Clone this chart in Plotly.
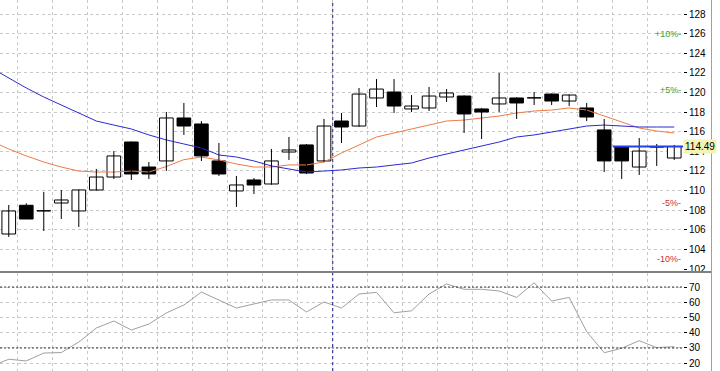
import plotly.graph_objects as go

# ---------------- data ----------------
bar_index = list(range(39))  # candle positions
open_ = [105.57, 108.50, 107.92, 108.73, 107.92, 110.06, 111.38, 114.95, 112.40, 113.02,
         117.40, 116.79, 113.02, 109.96, 111.08, 110.67, 113.93, 114.65, 113.02, 117.09,
         116.58, 119.44, 120.05, 118.32, 118.42, 119.54, 119.64, 118.32, 118.83, 119.44,
         119.44, 119.84, 119.13, 118.42, 116.18, 114.44, 112.40, 114.44, 113.32]
high = [108.53, 108.70, 109.86, 110.06, 110.10, 112.20, 114.03, 115.00, 112.91, 118.01,
        118.93, 117.09, 114.85, 111.49, 111.28, 114.24, 115.46, 114.75, 117.30, 117.91,
        120.46, 121.37, 121.37, 119.74, 120.56, 120.35, 119.70, 118.42, 121.99, 119.50,
        120.05, 119.90, 119.80, 118.93, 117.30, 114.50, 115.36, 114.75, 114.65]
low = [105.27, 107.10, 105.88, 107.10, 106.29, 110.00, 111.18, 111.08, 111.18, 112.00,
       115.67, 113.02, 111.49, 108.33, 109.65, 110.60, 113.12, 111.69, 112.90, 114.85,
       116.50, 118.52, 117.91, 118.01, 118.11, 119.03, 115.87, 115.26, 118.01, 117.30,
       118.72, 118.72, 118.62, 117.09, 111.89, 111.18, 111.59, 112.51, 113.12]
close = [107.92, 107.10, 107.92, 109.04, 110.06, 111.38, 113.53, 111.69, 111.69, 117.40,
         116.58, 113.53, 111.69, 110.57, 110.57, 113.02, 114.14, 111.79, 116.58, 116.48,
         119.84, 120.35, 118.62, 118.62, 119.64, 119.95, 117.81, 118.01, 119.44, 118.93,
         119.44, 119.13, 119.74, 117.50, 113.02, 113.02, 114.03, 114.44, 114.49]

# indicator values, one bar earlier than the first visible candle
ind_index = list(range(-1, 39))
ma_slow = [122.50, 121.48, 120.46, 119.54, 118.72, 117.90, 117.09, 116.68, 116.28, 115.67,
           115.16, 114.75, 114.34, 113.63, 113.42, 113.02, 112.51, 112.20, 111.89, 111.99,
           112.10, 112.30, 112.40, 112.61, 112.81, 113.32, 113.73, 114.14, 114.54, 114.95,
           115.46, 115.67, 115.97, 116.28, 116.58, 116.68, 116.58, 116.48, 116.48, 116.48]
ma_fast = [115.05, 114.24, 113.53, 112.91, 112.40, 111.99, 111.89, 111.89, 111.99, 111.89,
           112.45, 113.15, 113.42, 113.12, 112.71, 112.40, 112.40, 112.61, 112.61, 112.91,
           113.83, 114.65, 115.46, 115.87, 116.28, 116.68, 117.09, 117.19, 117.40, 117.60,
           117.91, 118.11, 118.21, 118.42, 118.21, 117.60, 116.99, 116.38, 116.07, 115.87]
rsi = [18.0, 22.6, 21.5, 26.7, 27.0, 33.9, 43.1, 47.7, 41.8, 45.7,
       53.0, 58.2, 66.7, 61.3, 56.2, 58.9, 61.5, 61.5, 53.6, 60.2,
       56.2, 65.4, 66.5, 53.1, 54.4, 65.4, 72.0, 68.5, 68.5, 67.4,
       63.2, 72.8, 60.8, 63.2, 40.7, 26.9, 29.8, 34.8, 30.2, 30.9]

price_ticks = list(range(102, 130, 2))
rsi_ticks = [20, 30, 40, 50, 60, 70]
rsi_levels = [70, 30]
pct_levels = [10, 5, -5, -10]
separator_after = 18          # period separator after this candle
price_line_from = 35          # horizontal line at last price starts here

# ---------------- figure ----------------
W, H = 720, 371
plot_right = 683 / W
main_bottom = (H - 270) / H
rsi_top = (H - 273) / H
font = "Liberation Sans"

fig = go.Figure()

fig.add_trace(go.Scatter(x=ind_index, y=ma_fast, mode="lines",
                         line=dict(color="#f07a45", width=1), hoverinfo="skip",
                         xaxis="x", yaxis="y"))
fig.add_trace(go.Scatter(x=ind_index, y=ma_slow, mode="lines",
                         line=dict(color="#2a2ad0", width=1), hoverinfo="skip",
                         xaxis="x", yaxis="y"))

# wicks (high-low)
wx, wy = [], []
for i, h, l in zip(bar_index, high, low):
    wx += [i, i, None]
    wy += [l, h, None]
fig.add_trace(go.Scatter(x=wx, y=wy, mode="lines", line=dict(color="#000000", width=1),
                         hoverinfo="skip", xaxis="x", yaxis="y"))

# bodies (open-close)
body_base = [min(o, c) for o, c in zip(open_, close)]
body_size = [max(abs(c - o), 0.02) for o, c in zip(open_, close)]
body_fill = ["#ffffff" if c > o else "#000000" for o, c in zip(open_, close)]
fig.add_trace(go.Bar(x=bar_index, y=body_size, base=body_base, width=0.78,
                     marker=dict(color=body_fill, line=dict(color="#000000", width=1)),
                     hoverinfo="skip", xaxis="x", yaxis="y"))

fig.add_trace(go.Scatter(x=ind_index, y=rsi, mode="lines",
                         line=dict(color="#a0a0a0", width=1), hoverinfo="skip",
                         xaxis="x2", yaxis="y2"))

grid = dict(showgrid=True, gridcolor="#c8c8c8", griddash="3px,3px", gridwidth=1)

fig.update_layout(
    width=W, height=H, margin=dict(l=0, r=0, t=0, b=0, autoexpand=False),
    paper_bgcolor="#ffffff", plot_bgcolor="#ffffff",
    showlegend=False,
    font=dict(family=font, size=9, color="#000000"),
    xaxis=dict(domain=[0, plot_right], range=[-0.5, 38.5], tick0=0.5, dtick=2,
               showticklabels=False, ticks="", zeroline=False, showline=False,
               anchor="y", **grid),
    xaxis2=dict(domain=[0, plot_right], range=[-0.5, 38.5], tick0=0.5, dtick=2,
                showticklabels=False, ticks="", zeroline=False, showline=False,
                anchor="y2", matches="x", **grid),
    yaxis=dict(domain=[main_bottom, 1], range=[101.9, 129.43], side="right",
               tickvals=price_ticks, ticks="outside", ticklen=3, tickcolor="#000000",
               tickfont=dict(family=font, size=10, color="#000000"),
               zeroline=False, showline=False, anchor="x", automargin=False, **grid),
    yaxis2=dict(domain=[0, rsi_top], range=[14.9, 79.2], side="right",
                tickvals=rsi_ticks, ticks="outside", ticklen=3, tickcolor="#000000",
                tickfont=dict(family=font, size=10, color="#000000"),
                zeroline=False, showline=False, anchor="x2", automargin=False, **grid),
)

# RSI overbought / oversold levels
for lv in rsi_levels:
    fig.add_shape(type="line", xref="paper", yref="y2", x0=0, x1=plot_right, y0=lv, y1=lv,
                  line=dict(color="#333333", width=1, dash="2px,2px"))

# period separator
for ref in ("y domain", "y2 domain"):
    fig.add_shape(type="line", xref="x", yref=ref, x0=separator_after + 0.5,
                  x1=separator_after + 0.5, y0=0, y1=1,
                  line=dict(color="#1a1a90", width=1, dash="3px,3px"))

last = close[-1]
# horizontal line at last price
fig.add_shape(type="line", xref="x", yref="y", x0=price_line_from - 0.5, x1=bar_index[-1] + 0.5,
              y0=last, y1=last, line=dict(color="#1f3ff0", width=2))

# panel separator and right border
fig.add_shape(type="line", xref="paper", yref="paper", x0=0, x1=712 / W,
              y0=(H - 272) / H, y1=(H - 272) / H, line=dict(color="#808080", width=2))
fig.add_shape(type="line", xref="paper", yref="paper", x0=711.5 / W, x1=711.5 / W,
              y0=0, y1=1, line=dict(color="#a0a0a0", width=1))

# percentage levels from last close
for p in pct_levels:
    fig.add_annotation(xref="paper", yref="y", x=plot_right, y=last * (1 + p / 100),
                       text=f"{p:+d}%-", showarrow=False, xanchor="right", yanchor="middle",
                       font=dict(family=font, size=9, color="#33a033" if p > 0 else "#d03030"))

# last price label
fig.add_annotation(xref="paper", yref="y", x=plot_right, y=last, text=f"{last:.2f}",
                   showarrow=False, xanchor="left", yanchor="middle", bgcolor="#f3f3b8",
                   borderpad=1, font=dict(family=font, size=10, color="#000000"))

fig.write_html("out.html", config={"displayModeBar": False},
               post_script="document.body.style.margin='0';document.body.style.padding='0';")
